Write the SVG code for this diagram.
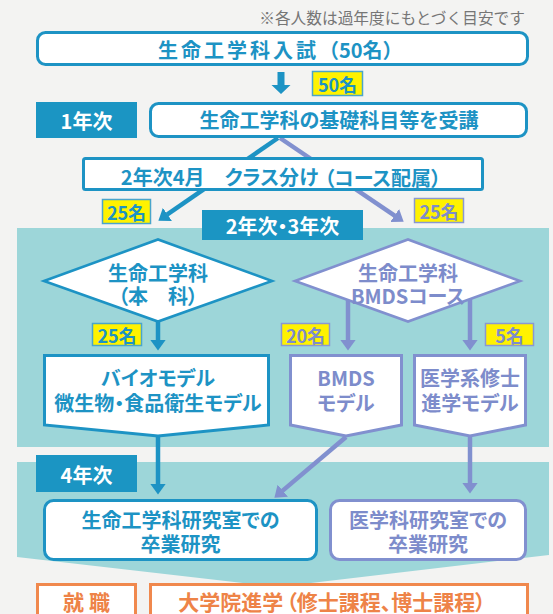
<svg xmlns="http://www.w3.org/2000/svg" width="553" height="614" viewBox="0 0 553 614">
<style>
text{font-family:"Noto Sans CJK JP","Noto Sans",sans-serif;font-weight:700;dominant-baseline:central;text-anchor:middle}
.p{font-feature-settings:"palt"}
.tb{fill:#1d93c4}
.tp{fill:#7d8ccb}
.tw{fill:#ffffff}
.to{fill:#ee8347}
.bb{fill:#ffffff;stroke:#1d93c4;stroke-width:3}
.bp{fill:#ffffff;stroke:#8190cf;stroke-width:3}
.bo{fill:#ffffff;stroke:#f0884d;stroke-width:3}
.lab{fill:#1b95c3}
.yb{fill:#fff200;stroke:#4aa5cb;stroke-width:1.5}
.yp{fill:#fff200;stroke:#8a98d2;stroke-width:1.5}
.cb{fill:none;stroke:#1d93c4;stroke-width:4.5}
.cp{fill:none;stroke:#8190cf;stroke-width:4.5}
</style>
<defs>
<marker id="ab" markerUnits="userSpaceOnUse" markerWidth="11" markerHeight="16" viewBox="0 0 11 16" refX="0.5" refY="8" orient="auto"><path d="M0,0 L11,8 L0,16 z" fill="#1d93c4"/></marker>
<marker id="ap" markerUnits="userSpaceOnUse" markerWidth="11" markerHeight="16" viewBox="0 0 11 16" refX="0.5" refY="8" orient="auto"><path d="M0,0 L11,8 L0,16 z" fill="#8190cf"/></marker>
</defs>
<rect width="553" height="614" fill="#f3f3f2"/>
<g id="regions">
<rect x="17" y="228" width="532" height="219" fill="#9dd6d9"/>
<polygon points="17,462 549,462 549,555 277,587 17,557" fill="#9dd6d9"/>
</g>
<text x="525" y="17.5" style="font-weight:400;font-size:15.7px;text-anchor:end;fill:#767676">※各人数は過年度にもとづく目安です</text>
<g id="connectors">
<polygon points="277.5,72 284.5,72 284.5,85 290.5,85 281,94 271.5,85 277.5,85" fill="#1d93c4"/>
<path class="cb" d="M278,138 L167,214.7" marker-end="url(#ab)"/>
<path class="cp" d="M280,138 L395,215.8" marker-end="url(#ap)"/>
<path class="cb" d="M158,315 L158,340" marker-end="url(#ab)"/>
<path class="cp" d="M348,290 L348,340" marker-end="url(#ap)"/>
<path class="cp" d="M470,290 L470,340" marker-end="url(#ap)"/>
<path class="cb" d="M158,430 L158,484" marker-end="url(#ab)"/>
<path class="cp" d="M346,437 L282.4,490.9" marker-end="url(#ap)"/>
<path class="cp" d="M470,430 L470,483" marker-end="url(#ap)"/>
</g>
<g id="exam">
<rect class="bb" x="37.5" y="32.5" width="490" height="32" rx="8"/>
<text x="158" y="48.5" style="font-size:20px;text-anchor:start" class="tb"><tspan letter-spacing="3">生命工学科入試</tspan><tspan>（50名）</tspan></text>
</g>
<g id="badge50">
<rect class="yb" x="312.5" y="71.5" width="50" height="24"/>
<text x="337.5" y="83.5" style="font-size:18px" class="tb p">50名</text>
</g>
<g id="year1">
<rect class="lab" x="36" y="102" width="101" height="36"/>
<text x="86.5" y="120" style="font-size:20px" class="tw p">1年次</text>
</g>
<g id="basic">
<rect class="bb" x="150.5" y="103.5" width="376" height="33" rx="8"/>
<text x="339" y="119.5" style="font-size:20px" class="tb p">生命工学科の基礎科目等を受講</text>
</g>
<g id="classdiv">
<rect class="bb" x="83.5" y="158.5" width="399" height="31" rx="2"/>
<text x="281" y="176.5" style="font-size:20px" class="tb p">2年次4月　クラス分け<tspan dx="6">（コース配属）</tspan></text>
</g>
<g id="badge25a">
<rect class="yb" x="102.5" y="199.5" width="48" height="24"/>
<text x="126.5" y="211.5" style="font-size:18px" class="tb p">25名</text>
</g>
<g id="badge25b">
<rect class="yp" x="414.5" y="198.5" width="49" height="24"/>
<text x="439" y="210.5" style="font-size:18px" class="tp p">25名</text>
</g>
<g id="year23">
<rect class="lab" x="202" y="210" width="161" height="30"/>
<text x="282.5" y="225" style="font-size:20px" class="tw p">2年次・3年次</text>
</g>
<g id="honka">
<polygon class="bb" style="stroke-width:2.6" points="44,281 158,239.5 272,281 158,321.5"/>
<text x="158" y="272" style="font-size:20px" class="tb p">生命工学科</text>
<text x="158" y="295" style="font-size:20px" class="tb p">（本　科）</text>
</g>
<g id="bmdscourse">
<polygon class="bp" style="stroke-width:2.6" points="295,281 408,239.5 520,281 408,321.5"/>
<text x="408" y="272" style="font-size:20px" class="tp p">生命工学科</text>
<text x="408" y="295" style="font-size:20px" class="tp p">BMDSコース</text>
</g>
<g id="badge25c">
<rect class="yb" x="92.5" y="323.5" width="49" height="22"/>
<text x="117" y="334.5" style="font-size:18px" class="tb p">25名</text>
</g>
<g id="badge20">
<rect class="yp" x="281.5" y="323.5" width="48" height="22"/>
<text x="305.5" y="334.5" style="font-size:18px" class="tp p">20名</text>
</g>
<g id="badge5">
<rect class="yp" x="485.5" y="323.5" width="48" height="22"/>
<text x="509.5" y="334.5" style="font-size:18px" class="tp p">5名</text>
</g>
<g id="biomodel">
<polygon class="bb" points="44.5,355.5 268.5,355.5 268.5,425 158,436 44.5,425"/>
<text x="158" y="377" style="font-size:20px" class="tb p">バイオモデル</text>
<text x="158" y="402" style="font-size:20px" class="tb p">微生物・食品衛生モデル</text>
</g>
<g id="bmdsmodel">
<polygon class="bp" points="290.5,355.5 401.5,355.5 401.5,425 346,436 290.5,425"/>
<text x="346" y="377" style="font-size:20px" class="tp p">BMDS</text>
<text x="346" y="402" style="font-size:20px" class="tp p">モデル</text>
</g>
<g id="medmodel">
<polygon class="bp" points="414.5,355.5 525.5,355.5 525.5,425 470,436 414.5,425"/>
<text x="470" y="377" style="font-size:20px" class="tp p">医学系修士</text>
<text x="470" y="402" style="font-size:20px" class="tp p">進学モデル</text>
</g>
<g id="year4">
<rect class="lab" x="36" y="455" width="101" height="37"/>
<text x="86.5" y="474" style="font-size:20px" class="tw p">4年次</text>
</g>
<g id="lab1">
<rect class="bb" x="44.5" y="500.5" width="272" height="59" rx="9"/>
<text x="180.5" y="519.5" style="font-size:20px" class="tb p">生命工学科研究室での</text>
<text x="180.5" y="543" style="font-size:20px" class="tb p">卒業研究</text>
</g>
<g id="lab2">
<rect class="bp" x="330.5" y="500.5" width="195" height="59" rx="9"/>
<text x="428" y="519.5" style="font-size:20px" class="tp p">医学科研究室での</text>
<text x="428" y="543" style="font-size:20px" class="tp p">卒業研究</text>
</g>
<g id="job">
<rect class="bo" x="37.5" y="584.5" width="98" height="40"/>
<text x="86.5" y="600.5" style="font-size:21px" class="to p">就 職</text>
</g>
<g id="grad">
<rect class="bo" x="150.5" y="584.5" width="377" height="40"/>
<text x="332" y="600.5" style="font-size:21px" class="to p">大学院進学<tspan dx="3">（修士課程、博士課程）</tspan></text>
</g>
</svg>
